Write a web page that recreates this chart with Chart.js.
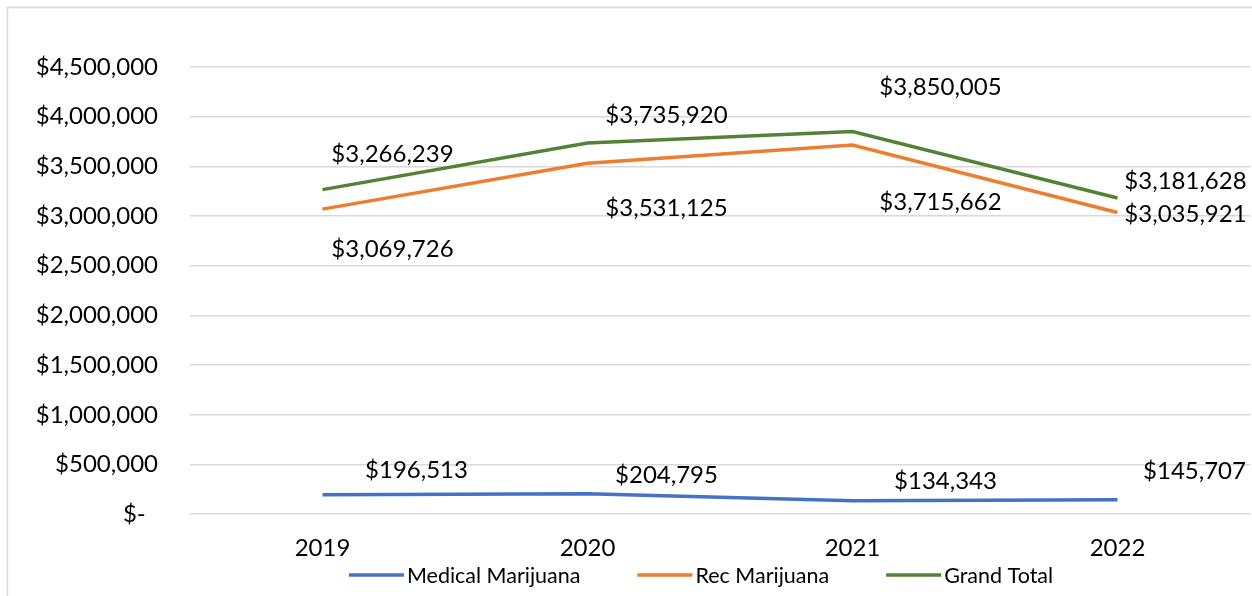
<!DOCTYPE html>
<html>
<head>
<meta charset="utf-8">
<script src="https://cdn.jsdelivr.net/npm/chart.js@4.4.1/dist/chart.umd.min.js"></script>
<style>
html,body{margin:0;padding:0;background:#fff;}
#wrap{position:absolute;left:0;top:0;width:1252px;height:596px;}
</style>
</head>
<body>
<div id="wrap"><canvas id="c" width="1252" height="596"></canvas></div>
<script>
const categories = ['2019', '2020', '2021', '2022'];
const medicalValues = [196513, 204795, 134343, 145707];
const recValues = [3069726, 3531125, 3715662, 3035921];
const totalValues = [3266239, 3735920, 3850005, 3181628];
const seriesNames = ['Medical Marijuana', 'Rec Marijuana', 'Grand Total'];
const yTicks = [0, 500000, 1000000, 1500000, 2000000, 2500000, 3000000, 3500000, 4000000, 4500000];

const FONT = 'Lato, "Open Sans", sans-serif';
const AXIS_FS = 24;
const LEG_FS = 21.5;

// label offsets (px) relative to each point, per series
const labelOffsets = [
  [[94,-24],[79,-19],[93,-20],[77,-28]],
  [[70,40],[79,45],[88,57],[68,2]],
  [[70,-35],[79,-28],[88,-44],[68,-17]]
];

function money(v){
  if (v === 0) return '$-  ';
  return '$' + v.toLocaleString('en-US');
}

const frame = {
  id: 'frame',
  beforeDraw(chart){
    const ctx = chart.ctx;
    ctx.save();
    ctx.strokeStyle = '#d9d9d9';
    ctx.lineWidth = 1.5;
    ctx.strokeRect(7.5, 7.5, 1400, 800);
    ctx.restore();
  }
};

const dataLabels = {
  id: 'dataLabels',
  afterDatasetsDraw(chart){
    const ctx = chart.ctx;
    ctx.save();
    ctx.font = AXIS_FS + 'px ' + FONT;
    ctx.fillStyle = '#000';
    ctx.textAlign = 'center';
    ctx.textBaseline = 'middle';
    chart.data.datasets.forEach((ds, i) => {
      const meta = chart.getDatasetMeta(i);
      meta.data.forEach((pt, j) => {
        const off = labelOffsets[i][j];
        ctx.fillText(money(ds.data[j]), pt.x + off[0], pt.y + off[1]);
      });
    });
    ctx.restore();
  }
};

const customLegend = {
  id: 'customLegend',
  afterDraw(chart){
    const ctx = chart.ctx;
    ctx.save();
    ctx.font = LEG_FS + 'px ' + FONT;
    ctx.textBaseline = 'middle';
    const lineW = 55, gapTxt = 3, gapItem = 57;
    const items = chart.data.datasets.map(ds => ({ label: ds.label, color: ds.borderColor, w: ctx.measureText(ds.label).width }));
    let total = 0;
    items.forEach((it, k) => { total += lineW + gapTxt + it.w + (k < items.length - 1 ? gapItem : 0); });
    let x = 701 - total / 2;
    const y = 575;
    items.forEach(it => {
      ctx.strokeStyle = it.color;
      ctx.lineWidth = 3.5;
      ctx.beginPath();
      ctx.moveTo(x, y);
      ctx.lineTo(x + lineW, y);
      ctx.stroke();
      ctx.fillStyle = '#000';
      ctx.fillText(it.label, x + lineW + gapTxt, y + 1);
      x += lineW + gapTxt + it.w + gapItem;
    });
    ctx.restore();
  }
};

const colors = ['#4472C4', '#ED7D31', '#548235'];
const seriesData = [medicalValues, recValues, totalValues];

new Chart(document.getElementById('c'), {
  type: 'line',
  data: {
    labels: categories,
    datasets: seriesData.map((d, i) => ({
      label: seriesNames[i],
      data: d,
      borderColor: colors[i],
      backgroundColor: colors[i],
      borderWidth: 3.5,
      pointRadius: 0,
      pointHoverRadius: 0,
      tension: 0,
      fill: false
    }))
  },
  options: {
    responsive: false,
    animation: false,
    devicePixelRatio: 1,
    layout: { padding: { top: 67, right: 2, bottom: 13, left: 0 } },
    plugins: {
      legend: { display: false },
      tooltip: { enabled: false }
    },
    scales: {
      x: {
        offset: true,
        grid: { display: false, drawTicks: false },
        border: { display: false },
        ticks: { color: '#000', font: { family: FONT, size: AXIS_FS }, padding: 20, maxRotation: 0 }
      },
      y: {
        min: 0,
        max: 4500000,
        afterFit(scale){ scale.width = 190; },
        afterBuildTicks(scale){ scale.ticks = yTicks.map(v => ({ value: v })); },
        grid: { color: '#d9d9d9', lineWidth: 1.5, drawTicks: false },
        border: { display: false },
        ticks: { color: '#000', font: { family: FONT, size: AXIS_FS }, padding: 32, callback: v => money(v) }
      }
    }
  },
  plugins: [frame, dataLabels, customLegend]
});
</script>
</body>
</html>
